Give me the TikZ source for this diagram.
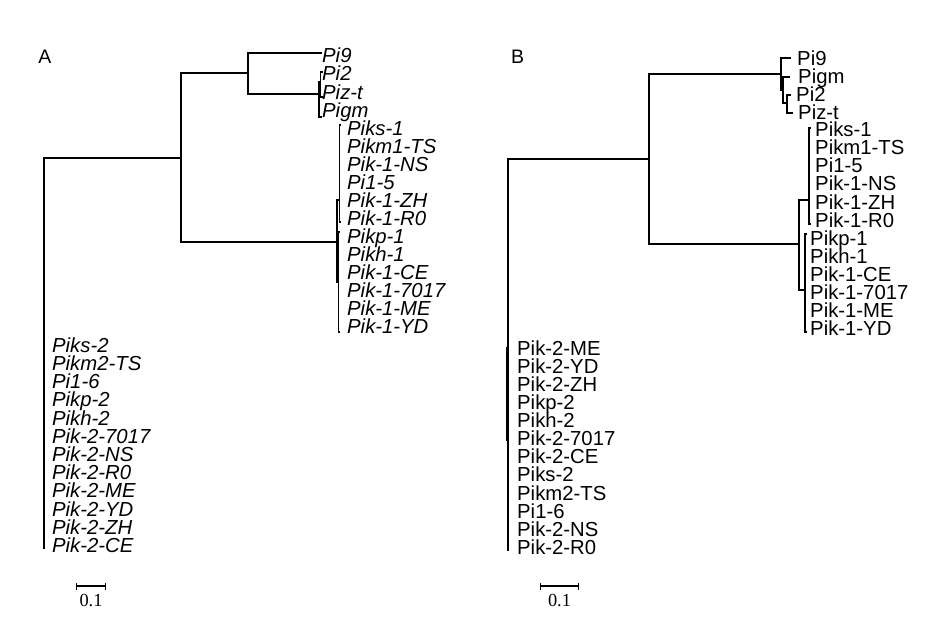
\documentclass[tikz,border=0pt]{standalone}
\usepackage{fontspec}
\setmainfont{Liberation Sans}
\newfontfamily\scalefont{Liberation Serif}
\usetikzlibrary{arrows.meta}
\begin{document}
\begin{tikzpicture}[x=1pt,y=-1pt,
  br/.style={line width=1.3pt, line cap=rect},
  lab/.style={anchor=west, inner sep=0pt, text height=14.5pt, text depth=0pt,
    font=\fontsize{20.3}{20}\selectfont\itshape},
  labB/.style={anchor=west, inner sep=0pt, text height=14.5pt, text depth=0pt,
    font=\fontsize{20.3}{20}\selectfont},
  panel/.style={inner sep=0pt, font=\fontsize{19.5}{19.5}\selectfont},
  sbar/.style={line width=1.4pt, {Bar[width=7pt]}-{Bar[width=7pt]}},
  snum/.style={inner sep=0pt, font=\fontsize{18.4}{18.4}\selectfont\scalefont}]
\useasboundingbox (0,0) rectangle (936,617);

% ---------------- Panel A ----------------
\node[panel] (pA) at (45,56.5) {A};
\coordinate (rA) at (44,158);
\coordinate (rAbot) at (44,548);
\coordinate (a1) at (181,158);
\coordinate (a2) at (248,73);
\coordinate (a3) at (337,242);
\coordinate (tPi9A) at (321,53);
\coordinate (a4) at (319,94);
\coordinate (a5) at (320.5,82);
\coordinate (tPigmA) at (321,117);
\coordinate (tPi2A) at (322,72);
\coordinate (tPiztA) at (322,97);
\coordinate (a6) at (339.5,200);
\coordinate (a7) at (338.5,282);
\coordinate (a6t) at (340,125);
\coordinate (a6b) at (340,222);
\coordinate (a7t) at (339,232);
\coordinate (a7b) at (339,332);

\draw[br] (rA) -- (a1);
\draw[br] (rA) -- (rAbot);
\draw[br] (a1) |- (a2);
\draw[br] (a1) |- (a3);
\draw[br] (a2) |- (tPi9A);
\draw[br] (a2) |- (a4);
\draw[br] (a4) |- (tPigmA);
\draw[br] (a4) |- (a5);
\draw[br] (a5) |- (tPi2A);
\draw[br] (a5) |- (tPiztA);
\draw[br] (a3) |- (a6);
\draw[br] (a3) |- (a7);
\draw[br] (a6) |- (a6t);
\draw[br] (a6) |- (a6b);
\draw[br] (a7) |- (a7t);
\draw[br] (a7) |- (a7b);

\node[lab] (lA1) at (322,55) {Pi9};
\node[lab] (lA2) at (322,73) {Pi2};
\node[lab] (lA3) at (322,92) {Piz-t};
\node[lab] (lA4) at (322,110) {Pigm};

\foreach \t [count=\i from 0] in {Piks-1,Pikm1-TS,Pik-1-NS,Pi1-5,Pik-1-ZH,Pik-1-R0,Pikp-1,Pikh-1,Pik-1-CE,Pik-1-7017,Pik-1-ME,Pik-1-YD}
  \node[lab] (kA1\i) at (347,128+18*\i) {\t};

\foreach \t [count=\i from 0] in {Piks-2,Pikm2-TS,Pi1-6,Pikp-2,Pikh-2,Pik-2-7017,Pik-2-NS,Pik-2-R0,Pik-2-ME,Pik-2-YD,Pik-2-ZH,Pik-2-CE}
  \node[lab] (kA2\i) at (52,345+18.2*\i) {\t};

\coordinate (sA1) at (76,586);
\coordinate (sA2) at (106,586);
\draw[sbar] (sA1) -- (sA2);
\node[snum] (nA) at (91,601) {0.1};

% ---------------- Panel B ----------------
\node[panel] (pB) at (517.5,56.5) {B};
\coordinate (rB) at (508,159);
\coordinate (rBbot) at (508,550);
\coordinate (b1) at (649,159);
\coordinate (b2) at (781,74);
\coordinate (b3) at (799,244);
\coordinate (tPi9B) at (790,58);
\coordinate (b4) at (783,90);
\coordinate (tPigmB) at (789,77);
\coordinate (b5) at (787,103);
\coordinate (tPi2B) at (790,95);
\coordinate (tPiztB) at (792,113);
\coordinate (b6) at (809,200);
\coordinate (b7) at (805,290);
\coordinate (b6t) at (810,128);
\coordinate (b6b) at (810,224);
\coordinate (b7t) at (806,234);
\coordinate (b7b) at (806,332);
\coordinate (bk1) at (507,348);
\coordinate (bk2) at (507,440);

\draw[br] (rB) -- (b1);
\draw[br] (rB) -- (rBbot);
\draw[br] (bk1) -- (bk2);
\draw[br] (b1) |- (b2);
\draw[br] (b1) |- (b3);
\draw[br] (b2) |- (tPi9B);
\draw[br] (b2) |- (b4);
\draw[br] (b4) |- (tPigmB);
\draw[br] (b4) |- (b5);
\draw[br] (b5) |- (tPi2B);
\draw[br] (b5) |- (tPiztB);
\draw[br] (b3) |- (b6);
\draw[br] (b3) |- (b7);
\draw[br] (b6) |- (b6t);
\draw[br] (b6) |- (b6b);
\draw[br] (b7) |- (b7t);
\draw[br] (b7) |- (b7b);

\node[labB] (lB1) at (797,58) {Pi9};
\node[labB] (lB2) at (798,76) {Pigm};
\node[labB] (lB3) at (796,94) {Pi2};
\node[labB] (lB4) at (798,112) {Piz-t};

\foreach \t [count=\i from 0] in {Piks-1,Pikm1-TS,Pi1-5,Pik-1-NS,Pik-1-ZH,Pik-1-R0}
  \node[labB] (kB1\i) at (815,129+18.2*\i) {\t};
\foreach \t [count=\i from 0] in {Pikp-1,Pikh-1,Pik-1-CE,Pik-1-7017,Pik-1-ME,Pik-1-YD}
  \node[labB] (kB2\i) at (810,238+18*\i) {\t};

\foreach \t [count=\i from 0] in {Pik-2-ME,Pik-2-YD,Pik-2-ZH,Pikp-2,Pikh-2,Pik-2-7017,Pik-2-CE,Piks-2,Pikm2-TS,Pi1-6,Pik-2-NS,Pik-2-R0}
  \node[labB] (kB3\i) at (517,348+18.1*\i) {\t};

\coordinate (sB1) at (540,586);
\coordinate (sB2) at (579,586);
\draw[sbar] (sB1) -- (sB2);
\node[snum] (nB) at (559.5,601) {0.1};
\end{tikzpicture}
\end{document}
